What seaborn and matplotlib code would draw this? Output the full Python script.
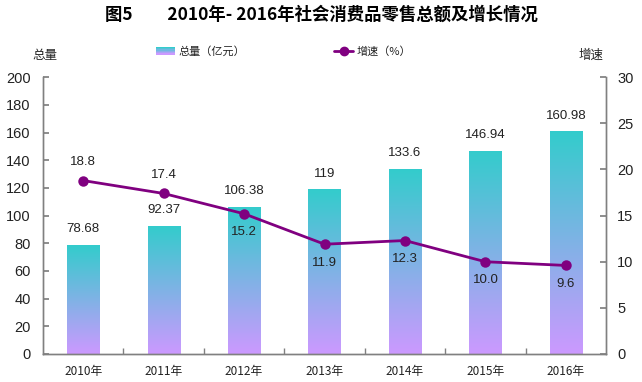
import numpy as np
import pandas as pd
import matplotlib.pyplot as plt
import seaborn as sns
from matplotlib.colors import LinearSegmentedColormap
from matplotlib.legend_handler import HandlerBase
from matplotlib.patches import Rectangle
from matplotlib.lines import Line2D

# 数据
years = ['2010年', '2011年', '2012年', '2013年', '2014年', '2015年', '2016年']
total = [78.68, 92.37, 106.38, 119, 133.6, 146.94, 160.98]
total_labels = ['78.68', '92.37', '106.38', '119', '133.6', '146.94', '160.98']
growth = [18.8, 17.4, 15.2, 11.9, 12.3, 10.0, 9.6]
growth_labels = ['18.8', '17.4', '15.2', '11.9', '12.3', '10.0', '9.6']
growth_below = [False, False, True, True, True, True, True]

sns.set_theme(style='white')
plt.rcParams['font.family'] = ['Liberation Sans', 'Noto Sans CJK SC', 'DejaVu Sans']
cjk = ['Noto Sans CJK SC', 'DejaVu Sans']

grad = LinearSegmentedColormap.from_list('g', ['#CC99FF', '#33CCCC'])
line_c = '#800080'
spine_c = '#808080'
text_c = '#222222'

df = pd.DataFrame({'year': years, 'total': total, 'growth': growth})

fig = plt.figure(figsize=(6.42, 3.82), dpi=100)
ax = fig.add_axes([0.067, 0.0733, 0.877, 0.7245])

# 柱状图 + 渐变填充
sns.barplot(data=df, x='year', y='total', ax=ax, width=0.4, color='#88AADD', saturation=1)
img = np.linspace(0, 1, 256).reshape(-1, 1)
for p in ax.patches:
    x0, y0 = p.get_x(), p.get_y()
    w, h = p.get_width(), p.get_height()
    im = ax.imshow(img, cmap=grad, origin='lower', aspect='auto',
                   extent=[x0, x0 + w, y0, y0 + h], zorder=2)
    im.set_clip_path(p)
    p.set_facecolor('none')
    p.set_edgecolor('none')
ax.set_xlim(-0.5, len(years) - 0.5)
ax.set_ylim(0, 200)
ax.set_yticks(range(0, 201, 20))

for i, (v, lab) in enumerate(zip(total, total_labels)):
    ax.annotate(lab, (i, v), xytext=(0, 7), textcoords='offset points',
                ha='center', va='bottom', fontsize=9.5, color=text_c)

# 增速折线
ax2 = ax.twinx()
sns.pointplot(data=df, x='year', y='growth', ax=ax2, color=line_c,
              markers='o', linestyles='-', markersize=6, linewidth=2)
ax2.set_xlim(-0.5, len(years) - 0.5)
ax2.set_ylim(0, 30)
ax2.set_yticks(range(0, 31, 5))
for i, (v, lab, below) in enumerate(zip(growth, growth_labels, growth_below)):
    off = -9 if below else 9
    ax2.annotate(lab, (i, v), xytext=(0, off), textcoords='offset points',
                 ha='center', va='top' if below else 'bottom', fontsize=9.5, color=text_c)

ax.set_xlabel('')
ax.set_ylabel('')
ax2.set_xlabel('')
ax2.set_ylabel('')

for a in (ax, ax2):
    a.spines['top'].set_visible(False)
    for s in ('left', 'right', 'bottom'):
        a.spines[s].set_color(spine_c)
        a.spines[s].set_linewidth(1)

ax.set_xticks(np.arange(0.5, len(years) - 1, 1), minor=True)
ax.tick_params(axis='x', which='major', length=0, pad=8, labelsize=8.5, labelcolor=text_c)
ax.tick_params(axis='x', which='minor', bottom=True, direction='in', length=4, color=spine_c)
for t in ax.get_xticklabels():
    t.set_family(cjk)
ax.tick_params(axis='y', left=True, direction='in', length=4, color=spine_c,
               labelsize=10.5, pad=9, labelcolor=text_c)
ax2.tick_params(axis='y', right=True, direction='in', length=4, color=spine_c,
                labelsize=10.5, pad=8, labelcolor=text_c)


class GradHandler(HandlerBase):
    def create_artists(self, legend, orig_handle, xdescent, ydescent, width, height, fontsize, trans):
        n = 6
        arts = []
        for k in range(n):
            r = Rectangle((-xdescent, -ydescent + height * k / n), width, height / n,
                          facecolor=grad(k / (n - 1)), edgecolor='none', transform=trans)
            arts.append(r)
        return arts


bar_handle = Rectangle((0, 0), 1, 1)
line_handle = Line2D([], [], color=line_c, marker='o', lw=2, ms=6)
fig.legend([bar_handle, line_handle], ['总量（亿元）', '增速（%）'],
           handler_map={Rectangle: GradHandler()},
           loc='center', bbox_to_anchor=(0.442, 0.866), ncol=2, frameon=False,
           prop={'family': cjk, 'size': 8}, handlelength=1.7, handletextpad=0.3,
           columnspacing=8.0, labelcolor=text_c)

fig.text(0.07, 0.855, '总量', family=cjk, fontsize=9, color=text_c, ha='center', va='center')
fig.text(0.92, 0.855, '增速', family=cjk, fontsize=9, color=text_c, ha='center', va='center')
fig.text(0.5, 0.962, '图5　　2010年- 2016年社会消费品零售总额及增长情况', family=cjk,
         fontsize=12.5, fontweight='bold', color='black', ha='center', va='center')

fig.savefig('out.png', dpi=100)
